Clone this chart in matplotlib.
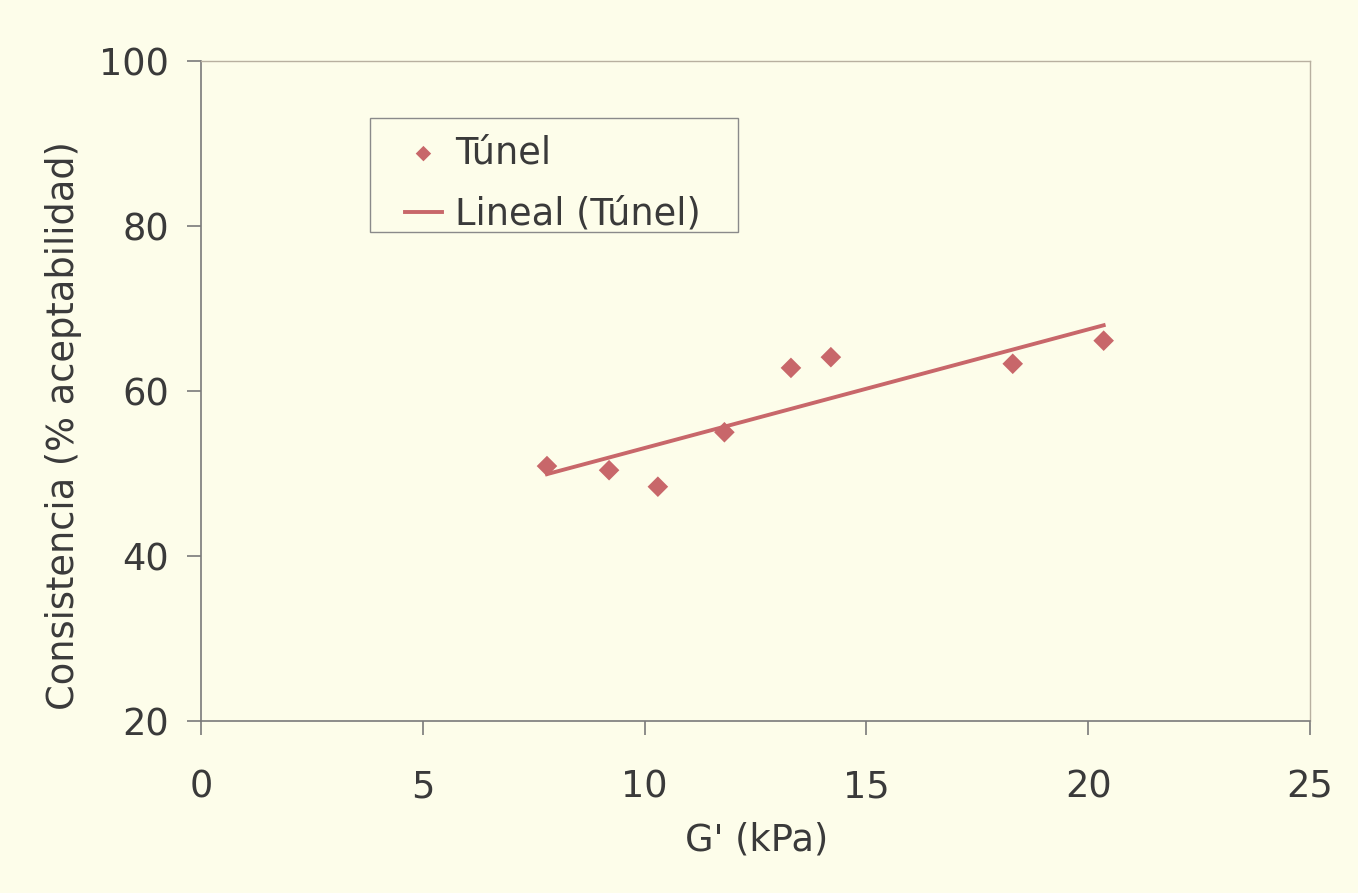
import numpy as np
import matplotlib
matplotlib.use("Agg")
import matplotlib.pyplot as plt
from matplotlib.patches import Rectangle

# Measured G' (kPa) and consistency acceptability (%) for the tunnel samples
g_prime = [7.8, 9.2, 10.3, 11.8, 13.3, 14.2, 18.3, 20.35]
consistencia = [50.9, 50.4, 48.4, 55.0, 62.8, 64.1, 63.3, 66.1]

x_ticks = [0, 5, 10, 15, 20, 25]
y_ticks = [20, 40, 60, 80, 100]

bg = "#FDFDEA"
mark_color = "#C8676A"
text_color = "#3A3A3A"
fs = 26.5

plt.rcParams["font.family"] = ["DejaVu Sans"]

fig = plt.figure(figsize=(13.58, 8.93), dpi=100, facecolor=bg)
ax = fig.add_axes([0.148, 0.1926, 0.8166, 0.7391], facecolor=bg)

ax.scatter(g_prime, consistencia, marker="D", s=110, color=mark_color,
           edgecolors="none", label="Túnel", zorder=3)

# Least-squares linear trend over the measured range
slope, intercept = np.polyfit(g_prime, consistencia, 1)
xs = np.array([min(g_prime), max(g_prime)])
ax.plot(xs, slope * xs + intercept, color=mark_color, lw=2.8,
        label="Lineal (Túnel)", zorder=2)

ax.set_xlim(0, 25)
ax.set_ylim(20, 100)
ax.set_xticks(x_ticks)
ax.set_yticks(y_ticks)

for side in ["left", "bottom"]:
    ax.spines[side].set_color("#7A7A7A")
    ax.spines[side].set_linewidth(1.2)
for side in ["top", "right"]:
    ax.spines[side].set_color("#B8B0A0")
    ax.spines[side].set_linewidth(1.0)

ax.tick_params(axis="both", direction="out", length=10, width=1.2,
               color="#7A7A7A", labelsize=fs, labelcolor=text_color)
ax.tick_params(axis="x", pad=24)
ax.tick_params(axis="y", pad=13)

ax.set_xlabel("G' (kPa)", fontsize=fs, color=text_color)
ax.set_ylabel("Consistencia (% aceptabilidad)", fontsize=fs, color=text_color)
ax.xaxis.set_label_coords(0.501, -0.153)
ax.yaxis.set_label_coords(-0.107, 0.448)

# Legend entries without their own frame; a plain box is drawn around them
leg = ax.legend(loc="upper left", bbox_to_anchor=(0.184, 0.889),
                borderaxespad=0, borderpad=0, fontsize=fs, frameon=False,
                handlelength=1.0, handletextpad=0.35, labelspacing=0.66,
                scatterpoints=1, markerscale=0.75)
for t in leg.get_texts():
    t.set_color(text_color)

ax.add_patch(Rectangle((0.1524, 0.741), 0.3318, 0.1727, transform=ax.transAxes,
                       facecolor="none", edgecolor="#8A8A8A", linewidth=1.0,
                       zorder=4))

fig.savefig("out.png", dpi=100, facecolor=bg)
